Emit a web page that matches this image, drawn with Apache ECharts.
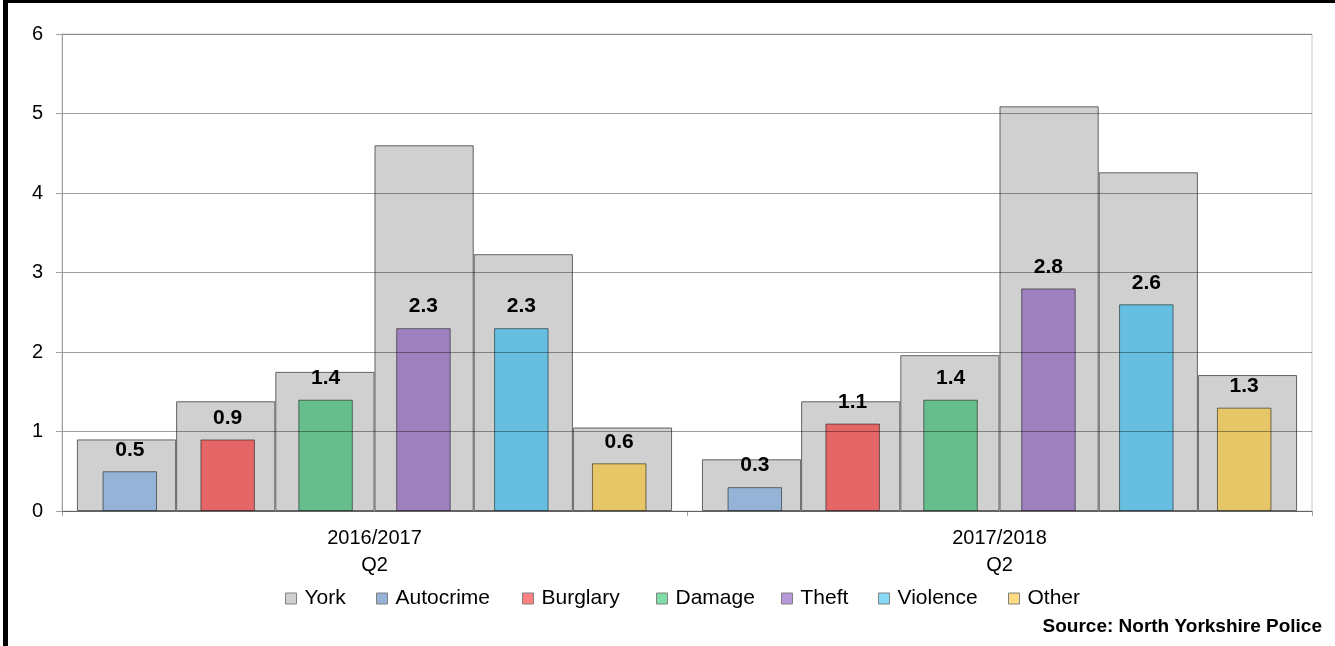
<!DOCTYPE html>
<html>
<head>
<meta charset="utf-8">
<script src="https://cdn.jsdelivr.net/npm/echarts@6/dist/echarts.min.js"></script>
<style>
  html, body { margin: 0; padding: 0; background: #fff; }
  #wrap { position: relative; width: 1335px; height: 646px; overflow: hidden; }
  #chart { position: absolute; left: 0; top: 0; width: 1335px; height: 646px; }
  .frame { position: absolute; background: #000; }
</style>
</head>
<body>
<div id="wrap">
  <div id="chart"></div>
  <div class="frame" style="left:3px;top:0;width:5px;height:646px;"></div>
  <div class="frame" style="left:3px;top:0;width:1332px;height:3px;"></div>
</div>
<script>
// ---- data ----
const categories = ['2016/2017\nQ2', '2017/2018\nQ2'];
const crimeTypes = ['Autocrime', 'Burglary', 'Damage', 'Theft', 'Violence', 'Other'];
const york2016 = [0.90, 1.38, 1.75, 4.60, 3.23, 1.05];
const york2017 = [0.65, 1.38, 1.96, 5.09, 4.26, 1.71];
const area2016 = [0.5, 0.9, 1.4, 2.3, 2.3, 0.6];
const area2017 = [0.3, 1.1, 1.4, 2.8, 2.6, 1.3];
const yMin = 0, yMax = 6, yStep = 1;
const sourceText = 'Source: North Yorkshire Police';

// ---- styling ----
const FONT = 'Liberation Sans, Arial, sans-serif';
const yorkColor = '#d0d0d0';
const barColors = ['#95b3d7', '#e46666', '#66be8c', '#9e80be', '#66bee0', '#e6c666'];
const legendColors = ['#95b3d7', '#ff8080', '#80dca6', '#b799d9', '#86daf8', '#ffdc80'];
const legendLeft = [285, 376, 522, 656, 781, 878, 1008];

const series = [];
crimeTypes.forEach((t, i) => {
  series.push({
    name: 'York', type: 'bar', xAxisIndex: 0,
    data: [york2016[i], york2017[i]],
    barWidth: '15.87%', barGap: '0%',
    itemStyle: { color: yorkColor, borderColor: '#626262', borderWidth: 1 },
    z: 2, silent: true, emphasis: { disabled: true }
  });
});
crimeTypes.forEach((t, i) => {
  series.push({
    name: t, type: 'bar', xAxisIndex: 1,
    data: [area2016[i], area2017[i]],
    barWidth: '8.72%', barGap: '79.6%',
    itemStyle: { color: barColors[i], borderColor: 'rgba(0,0,0,0.5)', borderWidth: 1 },
    z: 3, silent: true, emphasis: { disabled: true }
  });
});
crimeTypes.forEach((t, i) => {
  series.push({
    name: 'lbl_' + t, type: 'bar', xAxisIndex: 2,
    data: [area2016[i], area2017[i]],
    barWidth: '8.72%', barGap: '79.6%',
    itemStyle: { color: 'rgba(0,0,0,0)' },
    label: {
      show: true, position: 'top', distance: 11,
      formatter: p => Number(p.value).toFixed(1),
      fontSize: 21, fontWeight: 'bold', color: '#000', fontFamily: FONT
    },
    z: 20, silent: true, emphasis: { disabled: true }
  });
});

const legendNames = ['York'].concat(crimeTypes);
const legendFill = [yorkColor].concat(legendColors);
const legends = legendNames.map((n, i) => ({
  data: [{ name: n, itemStyle: { color: legendFill[i], borderColor: '#808080', borderWidth: 1 } }],
  left: legendLeft[i], top: 588, padding: 0,
  itemWidth: 11, itemHeight: 11, icon: 'rect', selectedMode: false,
  textStyle: { fontSize: 21, color: '#000', fontFamily: FONT, padding: [0, 0, 0, 3] }
}));

const hiddenX = () => ({ type: 'category', data: categories, gridIndex: 0, show: false });

const option = {
  animation: false,
  backgroundColor: '#fff',
  textStyle: { fontFamily: FONT },
  title: {
    text: sourceText, right: 13, top: 617, padding: 0,
    textStyle: { fontSize: 19, fontWeight: 'bold', color: '#000', fontFamily: FONT }
  },
  legend: legends,
  grid: {
    left: 62, right: 23, top: 34, bottom: 135,
    show: true, borderColor: '#c8c8c8', borderWidth: 1,
    outerBoundsMode: 'none', containLabel: false
  },
  xAxis: [
    {
      type: 'category', data: categories, gridIndex: 0,
      axisLine: { show: true, lineStyle: { color: '#a0a0a0', width: 1 } },
      axisTick: { show: true, length: 5, lineStyle: { color: '#a0a0a0' } },
      axisLabel: { fontSize: 20, lineHeight: 27, color: '#000', margin: 14, fontFamily: FONT },
      splitLine: { show: false }
    },
    hiddenX(),
    hiddenX()
  ],
  yAxis: {
    type: 'value', min: yMin, max: yMax, interval: yStep, z: 10,
    axisLine: { show: true, lineStyle: { color: '#a0a0a0', width: 1 } },
    axisTick: { show: true, length: 6, lineStyle: { color: '#a0a0a0' } },
    axisLabel: { margin: 19, fontSize: 20, color: '#000', fontFamily: FONT },
    splitLine: { show: true, lineStyle: { color: 'rgba(0,0,0,0.38)', width: 1 } }
  },
  series: series
};

const chart = echarts.init(document.getElementById('chart'), null, { renderer: 'canvas' });
chart.setOption(option);
</script>
</body>
</html>
